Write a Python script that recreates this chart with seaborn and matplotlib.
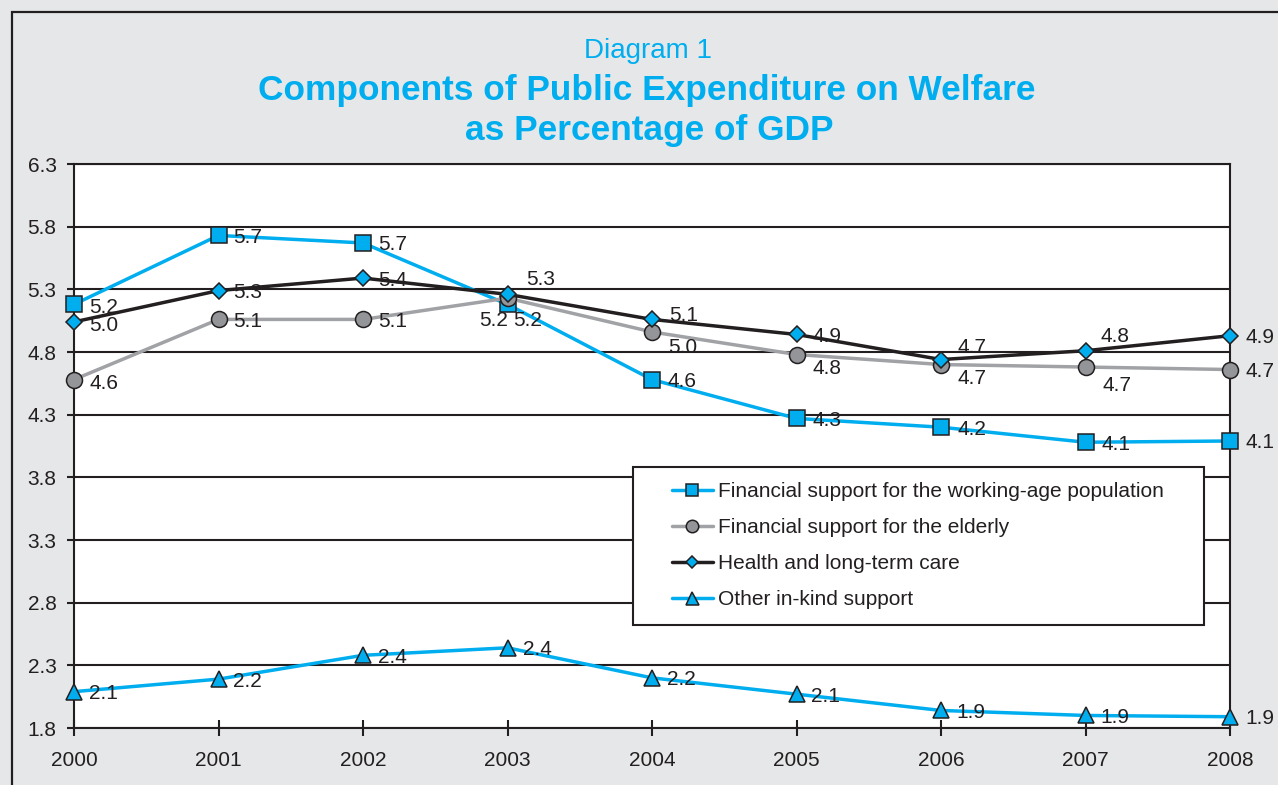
import matplotlib
matplotlib.use("Agg")
import matplotlib.pyplot as plt
from matplotlib.patches import Rectangle
import seaborn as sns

# Share of GDP (%) by component, 2000-2008
years = [2000, 2001, 2002, 2003, 2004, 2005, 2006, 2007, 2008]
working_age = [5.18, 5.73, 5.67, 5.18, 4.58, 4.27, 4.20, 4.08, 4.09]
elderly = [4.58, 5.06, 5.06, 5.23, 4.96, 4.78, 4.70, 4.68, 4.66]
health = [5.04, 5.29, 5.39, 5.26, 5.06, 4.94, 4.74, 4.81, 4.93]
other_in_kind = [2.09, 2.19, 2.38, 2.44, 2.20, 2.07, 1.94, 1.90, 1.89]

series_names = [
    "Financial support for the working-age population",
    "Financial support for the elderly",
    "Health and long-term care",
    "Other in-kind support",
]
y_ticks = [1.8, 2.3, 2.8, 3.3, 3.8, 4.3, 4.8, 5.3, 5.8, 6.3]

CYAN = "#00aeef"
DARK = "#231f20"
GREY_LINE = "#a0a2a5"
GREY_MARK = "#939598"
BG = "#e6e7e8"

sns.set_theme(style="white")
plt.rcParams["font.family"] = ["Liberation Sans", "DejaVu Sans"]

fig = plt.figure(figsize=(12.78, 7.85), dpi=100, facecolor=BG)
ax = fig.add_axes([74 / 1278, 1 - 728 / 785, (1230 - 74) / 1278, (728 - 164) / 785])
ax.set_facecolor("white")

styles = [
    dict(color=CYAN, marker="s", markersize=11.5, markerfacecolor=CYAN),
    dict(color=GREY_LINE, marker="o", markersize=11.5, markerfacecolor=GREY_MARK),
    dict(color=DARK, marker="D", markersize=7.8, markerfacecolor=CYAN),
    dict(color=CYAN, marker="^", markersize=12, markerfacecolor=CYAN),
]
all_series = [working_age, elderly, health, other_in_kind]

# draw order: other, working-age, elderly, health on top
for idx in [3, 0, 1, 2]:
    st = styles[idx]
    sns.lineplot(
        x=years, y=all_series[idx], ax=ax, label=series_names[idx],
        color=st["color"], linewidth=2.5, marker=st["marker"],
        markersize=st["markersize"], markerfacecolor=st["markerfacecolor"],
        markeredgecolor=DARK, markeredgewidth=1.1, zorder=3 + idx,
        clip_on=False,
    )

# value-label offsets in pixels (dx, dy, ha) for each series / year
label_offsets = [
    [(15, -1, "left"), (15, 0, "left"), (15, 0, "left"), (6, -14, "left"),
     (16, 0, "left"), (16, 0, "left"), (16, 0, "left"), (16, 0, "left"), (15, 0, "left")],
    [(15, -2, "left"), (15, 0, "left"), (15, 0, "left"), (1, -20, "right"),
     (16, -14, "left"), (16, -12, "left"), (16, -12, "left"), (17, -16, "left"), (15, 0, "left")],
    [(15, -2, "left"), (15, 0, "left"), (15, 0, "left"), (19, 17, "left"),
     (17, 6, "left"), (16, 0, "left"), (16, 14, "left"), (15, 16, "left"), (15, 0, "left")],
    [(15, 0, "left"), (15, 0, "left"), (15, 0, "left"), (15, 0, "left"),
     (15, 0, "left"), (15, 0, "left"), (15, 0, "left"), (15, 0, "left"), (15, 0, "left")],
]
for s_idx, values in enumerate(all_series):
    for yr, v, (dx, dy, ha) in zip(years, values, label_offsets[s_idx]):
        ax.annotate(f"{v:.1f}", xy=(yr, v), xytext=(dx, dy),
                    textcoords="offset pixels", ha=ha, va="center_baseline",
                    fontsize=15, color=DARK, zorder=10, annotation_clip=False)

ax.set_xlim(2000, 2008)
ax.set_ylim(1.8, 6.3)
ax.set_xticks(years)
ax.set_xticklabels([str(y) for y in years])
ax.set_yticks(y_ticks)
ax.set_yticklabels([f"{t:.1f}" for t in y_ticks])
ax.set_xlabel("")
ax.set_ylabel("")
ax.grid(axis="y", color=DARK, linewidth=1.5)
ax.grid(axis="x", visible=False)
ax.set_axisbelow(True)
for sp in ax.spines.values():
    sp.set_visible(True)
    sp.set_color(DARK)
    sp.set_linewidth(1.5)
ax.tick_params(axis="y", direction="out", length=5, width=1.5, color=DARK,
               labelsize=15, labelcolor=DARK, pad=7.5, left=True)
ax.tick_params(axis="x", direction="inout", length=11, width=1.5, color=DARK,
               labelsize=15, labelcolor=DARK, pad=11, bottom=True)

# legend box frame
ax.add_patch(Rectangle((0.4836, 0.1826), 0.4939, 0.2802, transform=ax.transAxes,
                       facecolor="white", edgecolor=DARK, linewidth=1.5,
                       zorder=19, clip_on=False))

handles, labels = ax.get_legend_handles_labels()
order = [labels.index(n) for n in series_names]
leg = ax.legend([handles[i] for i in order], [labels[i] for i in order],
                loc="center left", bbox_to_anchor=(0.5173, 0.3236),
                fontsize=15, frameon=False, borderpad=0, labelspacing=0.82,
                handlelength=1.95, handletextpad=0.25, borderaxespad=0,
                markerscale=0.78)
for t in leg.get_texts():
    t.set_color(DARK)
leg.set_zorder(20)

# outer panel frame
fig.patches.append(Rectangle((12 / 1278, -0.2), 1.5, 1 - 12 / 785 + 0.2,
                             transform=fig.transFigure, fill=False,
                             edgecolor=DARK, linewidth=1.6))

fig.text(0.507, 1 - 58 / 785, "Diagram 1", ha="center", va="baseline",
         fontsize=20, color=CYAN)
fig.text(0.506, 1 - 100 / 785, "Components of Public Expenditure on Welfare",
         ha="center", va="baseline", fontsize=25.4, fontweight="bold", color=CYAN)
fig.text(0.508, 1 - 140 / 785, "as Percentage of GDP",
         ha="center", va="baseline", fontsize=25.4, fontweight="bold", color=CYAN)

fig.savefig("out.png", dpi=100, facecolor=BG)
